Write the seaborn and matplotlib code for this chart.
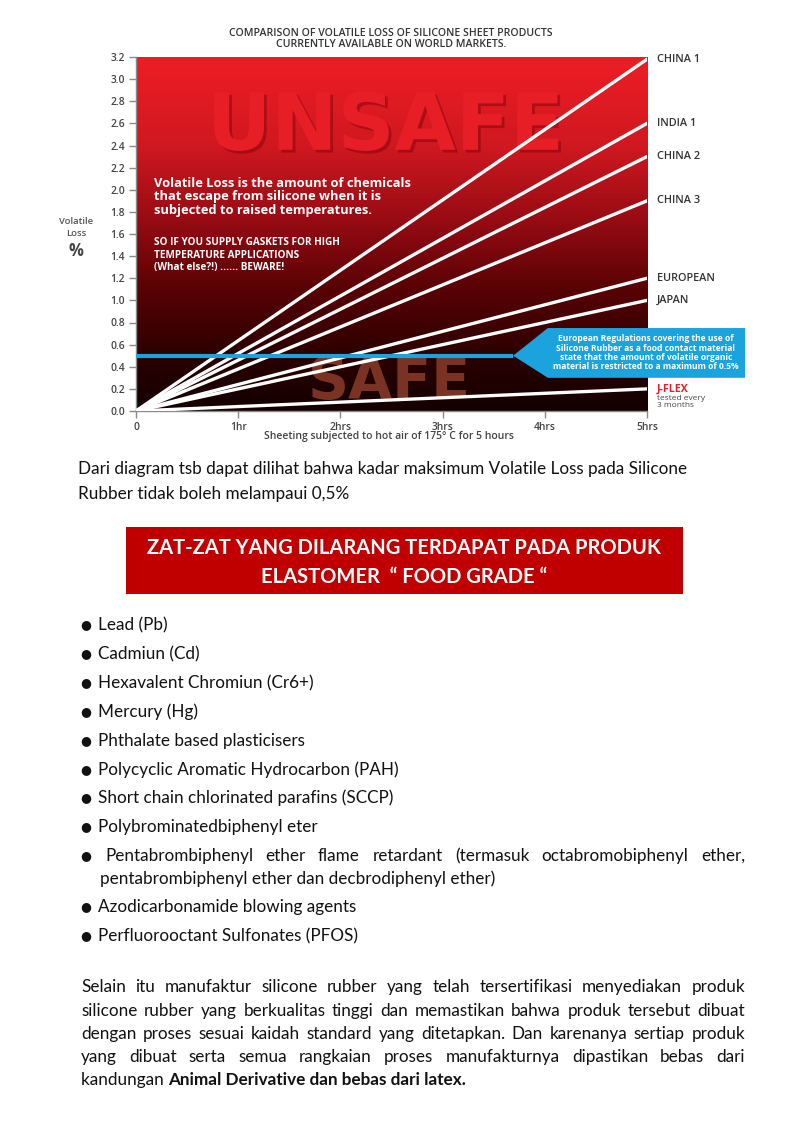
import numpy as np
import pandas as pd
import matplotlib
matplotlib.use("Agg")
import matplotlib.pyplot as plt
import seaborn as sns
from matplotlib.colors import LinearSegmentedColormap
from matplotlib.patches import Polygon, Rectangle
import matplotlib.patheffects as pe

# ---------------- data ----------------
hours = [0, 5]
products = ["CHINA 1", "INDIA 1", "CHINA 2", "CHINA 3", "EUROPEAN", "JAPAN", "J-FLEX"]
loss_start = [0.0, 0.0, 0.0, 0.0, 0.0, 0.0, 0.0]
loss_end = [3.18, 2.6, 2.3, 1.9, 1.2, 1.0, 0.2]
eu_limit = 0.5
y_ticks = [0.0, 0.2, 0.4, 0.6, 0.8, 1.0, 1.2, 1.4, 1.6, 1.8, 2.0, 2.2, 2.4, 2.6, 2.8, 3.0, 3.2]
x_ticks = [0, 1, 2, 3, 4, 5]
x_tick_labels = ["0", "1hr", "2hrs", "3hrs", "4hrs", "5hrs"]

chart_title = "COMPARISON OF VOLATILE LOSS OF SILICONE SHEET PRODUCTS\nCURRENTLY AVAILABLE ON WORLD MARKETS."
x_label = "Sheeting subjected to hot air of 175° C for 5 hours"
intro_lines = ["Dari diagram tsb dapat dilihat bahwa kadar maksimum Volatile Loss pada Silicone",
               "Rubber tidak boleh melampaui 0,5%"]
banner_lines = ["ZAT-ZAT YANG DILARANG TERDAPAT PADA PRODUK", "ELASTOMER  \u201c FOOD GRADE \u201c"]
bullets = ["Lead (Pb)", "Cadmiun (Cd)", "Hexavalent Chromiun (Cr6+)", "Mercury (Hg)",
           "Phthalate based plasticisers", "Polycyclic Aromatic Hydrocarbon (PAH)",
           "Short chain chlorinated parafins (SCCP)", "Polybrominatedbiphenyl eter",
           "Pentabrombiphenyl ether flame retardant (termasuk octabromobiphenyl ether,",
           "Azodicarbonamide blowing agents", "Perfluorooctant Sulfonates (PFOS)"]
bullet_cont = "pentabrombiphenyl ether dan decbrodiphenyl ether)"
para_lines = ["Selain itu manufaktur silicone rubber yang telah tersertifikasi menyediakan produk",
              "silicone rubber yang berkualitas tinggi dan memastikan bahwa produk tersebut dibuat",
              "dengan proses sesuai kaidah standard yang ditetapkan. Dan karenanya sertiap produk",
              "yang dibuat serta semua rangkaian proses manufakturnya dipastikan bebas dari"]
para_last_normal = "kandungan "
para_last_bold = "Animal Derivative dan bebas dari latex."

# ---------------- setup ----------------
sns.set_style("white")
plt.rcParams["font.family"] = ["Open Sans", "DejaVu Sans"]

W, H = 794, 1123
fig = plt.figure(figsize=(W / 100, H / 100), dpi=100)
fig.patch.set_facecolor("white")


def P(x, y):
    return (x / W, 1 - y / H)


CH = "Open Sans"
BODY = "Lato"

# ---------------- chart ----------------
ax = fig.add_axes([136 / W, 1 - 411 / H, 511 / W, 354 / H])
cmap = LinearSegmentedColormap.from_list(
    "redfade",
    [(0.0, "#140000"), (0.15, "#2a0000"), (0.35, "#5a0205"), (0.55, "#9a0c14"),
     (0.75, "#d01820"), (1.0, "#ee1d25")])
ax.imshow(np.linspace(0, 1, 256).reshape(-1, 1), extent=[0, 5, 0, 3.2], origin="lower",
          aspect="auto", cmap=cmap, zorder=0)

ax.text(2.44, 2.56, "UNSAFE", fontsize=57, fontweight="heavy", family="DejaVu Sans",
        color="#e81e27", ha="center", va="center", zorder=1,
        path_effects=[pe.SimplePatchShadow(offset=(2, -2), shadow_rgbFace="#7a0008", alpha=0.45),
                      pe.Normal()])
ax.text(2.48, 0.245, "SAFE", fontsize=41, fontweight="heavy", family="DejaVu Sans",
        color="#7a3322", ha="center", va="center", zorder=1)

rows = []
for name, a, b in zip(products, loss_start, loss_end):
    rows.append({"product": name, "hours": hours[0], "loss": a})
    rows.append({"product": name, "hours": hours[1], "loss": b})
df = pd.DataFrame(rows)
sns.lineplot(data=df, x="hours", y="loss", hue="product", palette=["white"] * len(products),
             legend=False, linewidth=2.4, ax=ax, zorder=3)

blue = "#1ba3de"
ax.plot([0, 3.69], [eu_limit, eu_limit], color=blue, lw=3, zorder=5, solid_capstyle="butt")
callout = Polygon([(3.69, eu_limit), (4.03, 0.75), (5.96, 0.75), (5.96, 0.30), (4.03, 0.30)],
                  closed=True, facecolor=blue, edgecolor="none", zorder=6, clip_on=False)
ax.add_patch(callout)
ax.text(4.99, 0.525,
        "European Regulations covering the use of\nSilicone Rubber as a food contact material\n"
        "state that the amount of volatile organic\nmaterial is restricted to a maximum of 0.5%",
        fontsize=6.1, fontweight="bold", color="white", ha="center", va="center",
        linespacing=1.05, zorder=7, family=CH)

ax.text(0.18, 1.935, "Volatile Loss is the amount of chemicals\nthat escape from silicone when it is\n"
        "subjected to raised temperatures.", fontsize=9.3, fontweight="bold", color="white",
        ha="left", va="center", linespacing=1.05, family=CH, zorder=4)
ax.text(0.18, 1.41, "SO IF YOU SUPPLY GASKETS FOR HIGH\nTEMPERATURE APPLICATIONS\n"
        "(What else?!) ...... BEWARE!", fontsize=7.2, fontweight="bold", color="white",
        ha="left", va="center", linespacing=1.15, family=CH, zorder=4)

for name, v in zip(products, loss_end):
    if name == "J-FLEX":
        ax.annotate(name, xy=(5, v), xytext=(10, 0), textcoords="offset pixels",
                    fontsize=7.6, fontweight="bold", color="#e4202a", va="center",
                    annotation_clip=False, family=CH)
        ax.annotate("tested every\n3 months", xy=(5, v), xytext=(10, -6),
                    textcoords="offset pixels", fontsize=6.0, color="#444444", va="top",
                    linespacing=1.0, annotation_clip=False, family=CH)
    else:
        ax.annotate(name, xy=(5, v), xytext=(10, 0), textcoords="offset pixels",
                    fontsize=7.8, color="#333333", va="center", annotation_clip=False,
                    family=CH, fontweight="semibold")

ax.set_xlim(0, 5)
ax.set_ylim(0, 3.2)
ax.set_yticks(y_ticks)
ax.set_yticklabels([f"{t:.1f}" for t in y_ticks])
ax.set_xticks(x_ticks)
ax.set_xticklabels(x_tick_labels)
ax.tick_params(axis="both", length=5, width=1, color="#8a8a8a", labelsize=7.4,
               labelcolor="#444444", pad=3, left=True, bottom=True)
for lab in ax.get_xticklabels() + ax.get_yticklabels():
    lab.set_family(CH)
    lab.set_fontweight("semibold")
for s in ["top", "right"]:
    ax.spines[s].set_visible(False)
for s in ["left", "bottom"]:
    ax.spines[s].set_color("#8a8a8a")
    ax.spines[s].set_linewidth(1)
ax.set_xlabel("")
ax.set_ylabel("")

fig.text(*P(391, 39), chart_title, fontsize=7.6, color="#333333", ha="center", va="center",
         linespacing=1.0, family=CH, fontweight="semibold")
fig.text(*P(389, 437), x_label, fontsize=7.5, color="#444444", ha="center", va="center",
         family=CH, fontweight="semibold")
fig.text(*P(76, 222), "Volatile", fontsize=6.8, color="#555555", ha="center", va="center",
         family=CH, fontweight="semibold")
fig.text(*P(76, 234), "Loss", fontsize=6.8, color="#555555", ha="center", va="center",
         family=CH, fontweight="semibold")
fig.text(*P(76, 251), "%", fontsize=12, color="#444444", ha="center", va="center",
         family=CH, fontweight="bold")

# ---------------- body text ----------------
renderer = fig.canvas.get_renderer()


def text_width(s, size, weight="normal"):
    t = fig.text(0, 0, s, fontsize=size, family=BODY, fontweight=weight)
    w = t.get_window_extent(renderer).width
    t.remove()
    return w


def justify(line, x0, x1, y, size, weight="normal", color="#111111"):
    words = line.split()
    widths = [text_width(w, size, weight) for w in words]
    gap = (x1 - x0 - sum(widths)) / (len(words) - 1)
    x = x0
    for w, wd in zip(words, widths):
        fig.text(*P(x, y), w, fontsize=size, family=BODY, fontweight=weight, color=color,
                 ha="left", va="center")
        x += wd + gap


BS = 12.3
for i, line in enumerate(intro_lines):
    fig.text(*P(78, 469 + i * 25), line, fontsize=BS, family=BODY, color="#111111",
             ha="left", va="center")

fig.patches.append(Rectangle(P(126, 594), 557 / W, 67 / H, transform=fig.transFigure,
                             facecolor="#c00000", edgecolor="none"))
for i, line in enumerate(banner_lines):
    fig.text(*P(404, 548 + i * 29), line, fontsize=14.5, family=BODY, fontweight="bold",
             color="white", ha="center", va="center")

bullet_y = [625, 654, 683, 712, 741, 770, 798, 827, 856, 907, 936]
for txt, y in zip(bullets, bullet_y):
    fig.text(*P(86, y), "\u25cf", fontsize=9, family="DejaVu Sans", color="#111111",
             ha="center", va="center")
    if txt.startswith("Pentabrombiphenyl"):
        justify(txt, 105, 745, y, BS)
    else:
        fig.text(*P(98, y), txt, fontsize=BS, family=BODY, color="#111111", ha="left",
                 va="center")
fig.text(*P(100, 879), bullet_cont, fontsize=BS, family=BODY, color="#111111", ha="left",
         va="center")

para_y = [987, 1011, 1034, 1057]
for line, y in zip(para_lines, para_y):
    justify(line, 81, 745, y, BS)
fig.text(*P(81, 1080), para_last_normal, fontsize=BS, family=BODY, color="#111111",
         ha="left", va="center")
wn = text_width(para_last_normal, BS)
fig.text(*P(81 + wn, 1080), para_last_bold, fontsize=BS, family=BODY, fontweight="bold",
         color="#111111", ha="left", va="center")

fig.savefig("out.png", dpi=100, facecolor="white")
